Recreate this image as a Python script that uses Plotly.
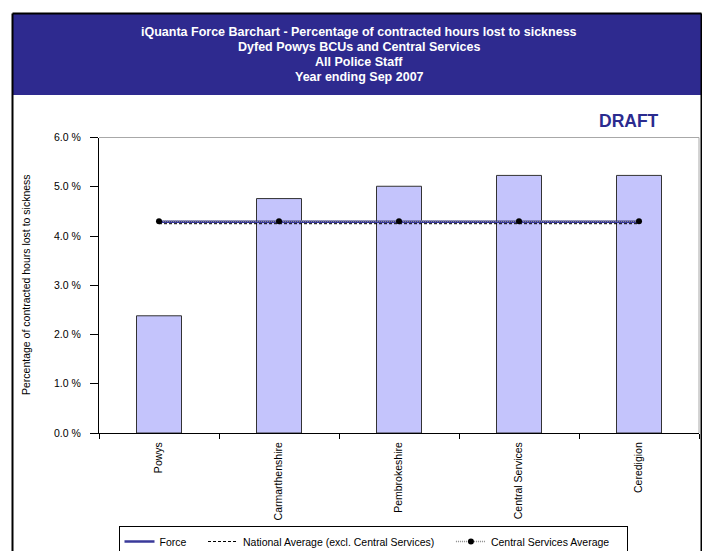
import plotly.graph_objects as go

# data
categories = ["Powys", "Carmarthenshire", "Pembrokeshire", "Central Services", "Ceredigion"]
force_pct = [2.38, 4.76, 5.01, 5.23, 5.23]
force_avg = [4.29, 4.29, 4.29, 4.29, 4.29]
national_avg = [4.25, 4.25, 4.25, 4.25, 4.25]
central_avg = [4.30, 4.30, 4.30, 4.30, 4.30]
y_ticks = [0, 1, 2, 3, 4, 5, 6]
y_tick_text = ["0.0 %", "1.0 %", "2.0 %", "3.0 %", "4.0 %", "5.0 %", "6.0 %"]
title_lines = [
    "iQuanta Force Barchart - Percentage of contracted hours lost to sickness",
    "Dyfed Powys BCUs and Central Services",
    "All Police Staff",
    "Year ending Sep 2007",
]

# the page body keeps its default 8px margin, so reference pixel
# positions are shifted by 8 and the figure is 16px narrower
OFF = 8
W = 710 - 2 * OFF
H = 551
FONT = "Arial, Liberation Sans, sans-serif"
NAVY = "#2E2A8F"
PAD = "\u00a0" * 4


def px_x(x):
    return (x - OFF) / W


def px_y(y):
    return (H - (y - OFF)) / H


def seg(x0, y0, x1, y1, color="black", width=2):
    return dict(type="line", xref="paper", yref="paper",
                x0=px_x(x0), x1=px_x(x1), y0=px_y(y0), y1=px_y(y1),
                line=dict(color=color, width=width))


fig = go.Figure()

fig.add_trace(go.Bar(
    x=categories, y=force_pct, width=0.375,
    marker=dict(color="#C4C4FC", line=dict(color="#333333", width=1)),
    showlegend=False, hoverinfo="x+y"
))
fig.add_trace(go.Scatter(
    x=categories, y=force_avg, mode="lines", name="Force" + PAD,
    line=dict(color="#3A3A9A", width=2.5)
))
fig.add_trace(go.Scatter(
    x=categories, y=national_avg, mode="lines",
    name="National Average (excl. Central Services)" + PAD,
    line=dict(color="black", width=1, dash="3px,2px")
))
fig.add_trace(go.Scatter(
    x=categories, y=central_avg, mode="lines+markers",
    name="Central Services Average" + PAD,
    line=dict(color="#8A8A8A", width=1.5, dash="1px,1px"),
    marker=dict(color="black", size=6)
))

shapes = [
    # blue header
    dict(type="rect", xref="paper", yref="paper", x0=px_x(13), x1=px_x(701), y0=px_y(95), y1=px_y(14),
         fillcolor=NAVY, line=dict(width=0), layer="below"),
    # outer frame (runs off the bottom)
    seg(12.5, 13.5, 701.5, 13.5),
    seg(12.5, 13.5, 12.5, 558),
    seg(701.5, 13.5, 701.5, 558),
    # grey top and right edge of plot area
    seg(99, 137.5, 699, 137.5, "#A8A8A8", 1),
    seg(699, 137.5, 699, 433, "#A8A8A8", 1),
]

annotations = []
for i, line in enumerate(title_lines):
    annotations.append(dict(
        text="<b>%s</b>" % line, xref="paper", yref="paper",
        x=px_x(359), y=px_y(32 + 15 * i), showarrow=False,
        font=dict(family=FONT, size=12.5, color="white"), xanchor="center", yanchor="middle"
    ))
annotations.append(dict(
    text="<b>DRAFT</b>", xref="paper", yref="paper", x=px_x(629), y=px_y(121),
    showarrow=False, font=dict(family=FONT, size=17.5, color="#2B2B8F"),
    xanchor="center", yanchor="middle"
))
annotations.append(dict(
    text="Percentage of contracted hours lost to sickness", xref="paper", yref="paper",
    x=px_x(26), y=px_y(285), textangle=-90, showarrow=False,
    font=dict(family=FONT, size=10.5, color="black"), xanchor="center", yanchor="middle"
))

fig.update_layout(
    width=W, height=H,
    margin=dict(l=0, r=0, t=0, b=0, autoexpand=False),
    paper_bgcolor="white", plot_bgcolor="white",
    font=dict(family=FONT, size=10.5, color="black"),
    shapes=shapes, annotations=annotations,
    xaxis=dict(
        domain=[px_x(99), px_x(699)], range=[-0.5, 4.5],
        tickangle=-90, tickson="boundaries", ticks="outside", ticklen=5,
        tickcolor="black", showline=True, linecolor="black", linewidth=1,
        showgrid=False, tickfont=dict(size=10.5), ticklabelstandoff=4
    ),
    yaxis=dict(
        domain=[px_y(433), px_y(137.5)], range=[0, 6],
        tickvals=y_ticks, ticktext=y_tick_text, ticks="outside", ticklen=8,
        tickcolor="black", showline=True, linecolor="black", linewidth=1,
        showgrid=False, zeroline=False, tickfont=dict(size=10.5), ticklabelstandoff=7
    ),
    legend=dict(
        orientation="h", x=px_x(373), y=px_y(526), xanchor="center", yanchor="top",
        bordercolor="black", borderwidth=1, font=dict(size=10.5),
        itemwidth=30, tracegroupgap=0
    ),
)

fig.write_html("out.html")
